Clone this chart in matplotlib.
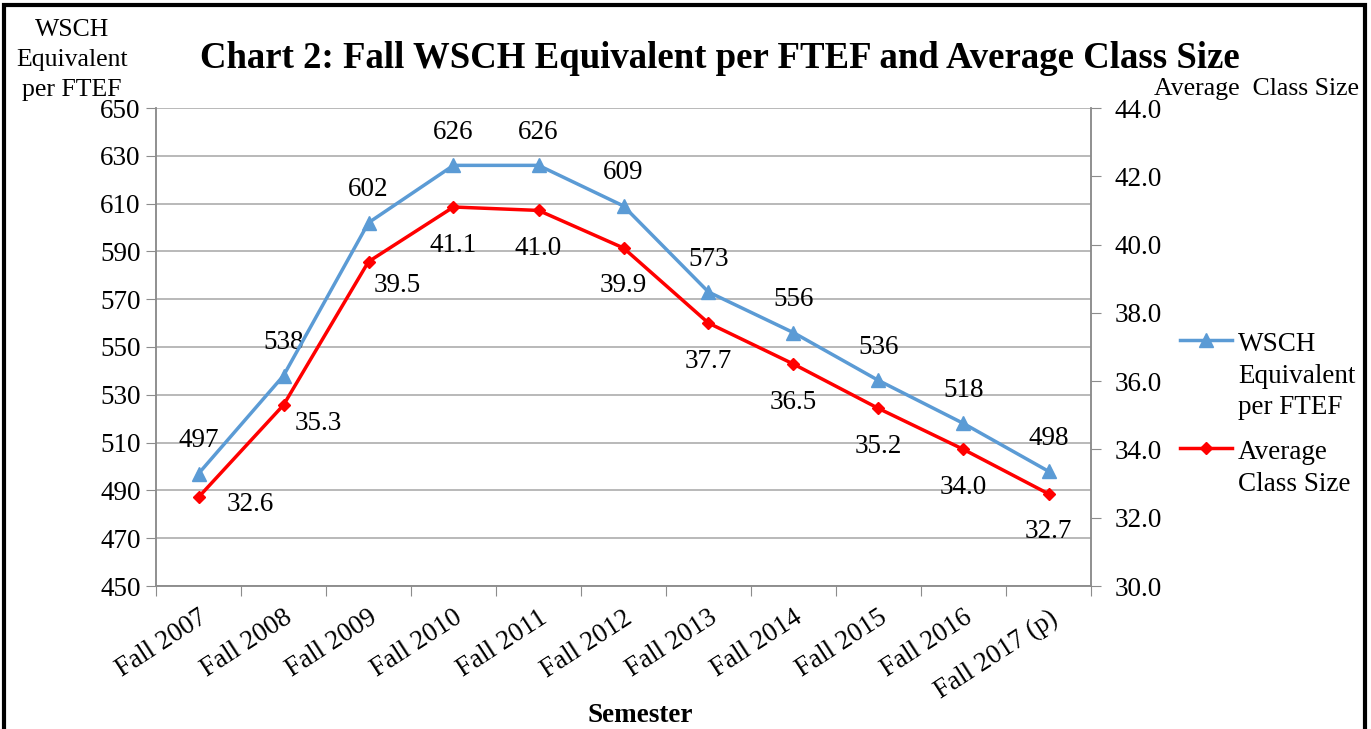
import matplotlib.pyplot as plt
from matplotlib.lines import Line2D
from matplotlib.patches import Rectangle

# Datos del gráfico
semestres = ["Fall 2007", "Fall 2008", "Fall 2009", "Fall 2010", "Fall 2011",
             "Fall 2012", "Fall 2013", "Fall 2014", "Fall 2015", "Fall 2016",
             "Fall 2017 (p)"]
wsch = [497, 538, 602, 626, 626, 609, 573, 556, 536, 518, 498]
clase = [32.6, 35.3, 39.5, 41.1, 41.0, 39.9, 37.7, 36.5, 35.2, 34.0, 32.7]

# Desplazamiento de las etiquetas rojas (pixeles)
offs_rojo = [(52, -7), (35, -18), (29, -24)] + [(0, -38)] * 8

AZUL = "#5b9bd5"
ROJO = "#ff0000"
GRIS = "#8c8c8c"
plt.rcParams['font.family'] = ['Liberation Serif', 'DejaVu Serif']

fig = plt.figure(figsize=(13.71, 7.29), dpi=100)
ax1 = fig.add_axes([156 / 1371, 1 - 586 / 729, 935 / 1371, 478 / 729])
ax2 = ax1.twinx()

x = list(range(len(semestres)))
ax1.plot(x, wsch, color=AZUL, lw=2.5, marker='^', ms=10, zorder=4)
ax2.plot(x, clase, color=ROJO, lw=2.5, marker='D', ms=6.5, zorder=4)

for xi, v in zip(x, wsch):
    ax1.annotate(f"{v}", (xi, v), xytext=(0, 33), textcoords='offset pixels',
                 ha='center', va='center', fontsize=19.5)
for xi, v, (dx, dy) in zip(x, clase, offs_rojo):
    ax2.annotate(f"{v:.1f}", (xi, v), xytext=(dx, dy), textcoords='offset pixels',
                 ha='center', va='center', fontsize=19.5)

# Ejes
ax1.set_xlim(-0.5, len(semestres) - 0.5)
ax1.set_ylim(450, 650)
ax1.set_yticks(range(450, 651, 20))
ax2.set_ylim(30, 44)
ax2.set_yticks([30 + 2 * i for i in range(8)])
ax2.set_yticklabels([f"{30 + 2 * i:.1f}" for i in range(8)])

ax1.set_xticks([i - 0.5 for i in range(len(semestres) + 1)])
ax1.set_xticklabels([])
ax1.set_xticks(x, minor=True)
ax1.set_xticklabels(semestres, minor=True, rotation=33, ha='right', va='top',
                    rotation_mode='anchor', fontsize=19.5)
ax1.tick_params(axis='x', which='major', length=7, color=GRIS, direction='out')
ax1.tick_params(axis='x', which='minor', length=0, pad=14)
ax1.tick_params(axis='y', length=7, color=GRIS, labelsize=19.5, pad=4)
ax2.tick_params(axis='y', length=7, color=GRIS, labelsize=19.5, pad=10)

ax1.grid(axis='y', color='#a6a6a6', lw=1.1)
ax1.set_axisbelow(True)
for a in (ax1, ax2):
    a.spines['top'].set_visible(False)
    for s in ('left', 'right', 'bottom'):
        a.spines[s].set_color(GRIS)
        a.spines[s].set_linewidth(1.1)

# Textos
fig.text(720 / 1371, 1 - 58 / 729, "Chart 2: Fall WSCH Equivalent per FTEF and Average Class Size",
         ha='center', va='center', fontsize=26.5, fontweight='bold')
fig.text(72 / 1371, 1 - 60 / 729, "WSCH\nEquivalent\nper FTEF", ha='center', va='center',
         fontsize=18.5, linespacing=1.45)
fig.text(1257 / 1371, 1 - 89 / 729, "Average  Class Size", ha='center', va='center', fontsize=18.5)
fig.text(640 / 1371, 1 - 715 / 729, "Semester", ha='center', va='center',
         fontsize=19.5, fontweight='bold')

# Leyenda manual
for y, col, mk, ms, lab in [(340, AZUL, '^', 10, "WSCH\nEquivalent\nper FTEF"),
                            (448, ROJO, 'D', 6.5, "Average\nClass Size")]:
    yf = 1 - y / 729
    fig.add_artist(Line2D([1180 / 1371, 1232 / 1371], [yf, yf], color=col, lw=2.5))
    fig.add_artist(Line2D([1206 / 1371], [yf], color=col, marker=mk, ms=ms))
    fig.text(1238 / 1371, 1 - (y - 8) / 729, lab, ha='left', va='top',
             fontsize=19.5, linespacing=1.35)

# Marco
fig.add_artist(Rectangle((4 / 1371, -0.05), 1361 / 1371, 1.05 - 5 / 729,
                         transform=fig.transFigure, fill=False, ec='black', lw=3))

fig.savefig("out.png", dpi=100)
